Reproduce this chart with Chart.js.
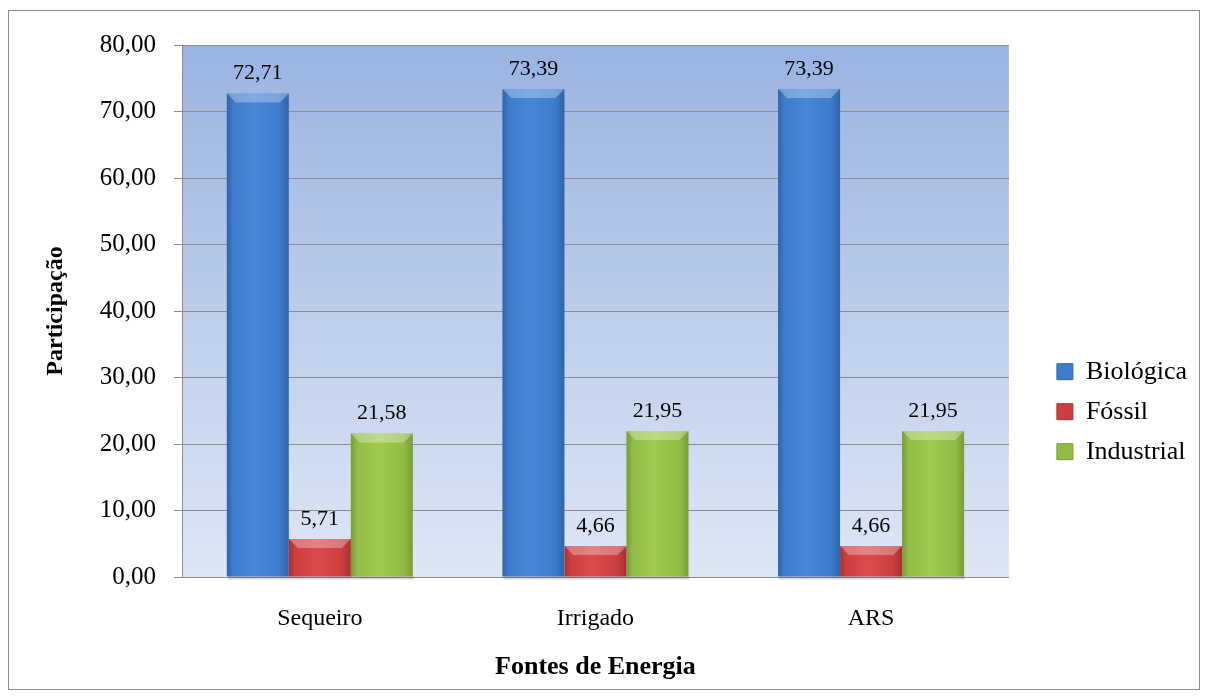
<!DOCTYPE html>
<html lang="pt">
<head>
    <meta charset="UTF-8">
    <title>Fontes de Energia</title>
    <script src="https://cdn.jsdelivr.net/npm/chart.js"></script>
    <style>
        html, body { margin: 0; padding: 0; background: #ffffff; }
        #wrap { width: 1208px; height: 696px; }
    </style>
</head>
<body>
<div id="wrap"><canvas id="chart" width="1208" height="696"></canvas></div>
<script>
    // valores
    const categorias = ['Sequeiro', 'Irrigado', 'ARS'];
    const biologica = [72.71, 73.39, 73.39];
    const fossil = [5.71, 4.66, 4.66];
    const industrial = [21.58, 21.95, 21.95];
    const series = ['Biológica', 'Fóssil', 'Industrial'];

    const cores = [
        { dark: '#2f64a8', mid: '#4887d6', flat: '#3d7bcb' },
        { dark: '#a83034', mid: '#dc4a4c', flat: '#cc3f41' },
        { dark: '#789c34', mid: '#a2ca50', flat: '#92bc45' }
    ];

    const fmt = v => v.toFixed(2).replace('.', ',');

    function barFill(idx) {
        return ctx => {
            const el = ctx.element;
            const c = cores[idx];
            if (!el || el.x === undefined || !el.width) return c.flat;
            const g = ctx.chart.ctx.createLinearGradient(el.x - el.width / 2, 0, el.x + el.width / 2, 0);
            g.addColorStop(0, c.dark);
            g.addColorStop(0.1, c.flat);
            g.addColorStop(0.45, c.mid);
            g.addColorStop(0.85, c.flat);
            g.addColorStop(1, c.dark);
            return g;
        };
    }

    // fundo em degradê da área do gráfico e moldura externa
    const fundo = {
        id: 'fundo',
        beforeDraw(chart) {
            const { ctx, chartArea: a } = chart;
            ctx.save();
            ctx.strokeStyle = '#8c8c8c';
            ctx.lineWidth = 1;
            ctx.strokeRect(8.5, 10.5, 1191, 679);
            const g = ctx.createLinearGradient(0, a.top, 0, a.bottom);
            g.addColorStop(0, '#9ab3e1');
            g.addColorStop(1, '#dfe7f5');
            ctx.fillStyle = g;
            ctx.fillRect(a.left, a.top, a.right - a.left, a.bottom - a.top);
            ctx.restore();
        }
    };

    // brilho no topo das barras e rótulos de valor
    const acabamento = {
        id: 'acabamento',
        afterDatasetsDraw(chart) {
            const ctx = chart.ctx;
            ctx.save();
            chart.data.datasets.forEach((ds, di) => {
                chart.getDatasetMeta(di).data.forEach((bar, i) => {
                    const l = bar.x - bar.width / 2, r = bar.x + bar.width / 2;
                    const t = bar.y, b = bar.base;
                    const bev = Math.min(9, (b - t) / 3);
                    ctx.fillStyle = 'rgba(255,255,255,0.3)';
                    ctx.beginPath();
                    ctx.moveTo(l, t);
                    ctx.lineTo(r, t);
                    ctx.lineTo(r - bev, t + bev);
                    ctx.lineTo(l + bev, t + bev);
                    ctx.closePath();
                    ctx.fill();
                    ctx.fillStyle = 'rgba(0,0,0,0.15)';
                    ctx.fillRect(l + 1, b, r - l, 3);

                    ctx.fillStyle = '#000000';
                    ctx.font = '22px "Liberation Serif"';
                    ctx.textAlign = 'center';
                    ctx.textBaseline = 'middle';
                    ctx.fillText(fmt(ds.data[i]), bar.x, t - 20);
                });
            });
            ctx.restore();
        }
    };

    const chart = new Chart(document.getElementById('chart'), {
        type: 'bar',
        data: {
            labels: categorias,
            datasets: [
                { label: series[0], data: biologica, backgroundColor: barFill(0) },
                { label: series[1], data: fossil, backgroundColor: barFill(1) },
                { label: series[2], data: industrial, backgroundColor: barFill(2) }
            ]
        },
        options: {
            responsive: false,
            animation: false,
            devicePixelRatio: 1,
            layout: { padding: { left: 12, top: 45, right: 11, bottom: 10 } },
            datasets: {
                bar: { barPercentage: 1.0, categoryPercentage: 0.675, borderWidth: 0 }
            },
            scales: {
                x: {
                    grid: { display: false, drawTicks: false },
                    border: { color: '#8c8c8c' },
                    ticks: { color: '#000', font: { family: 'Liberation Serif', size: 24 }, padding: 27 },
                    title: {
                        display: true, text: 'Fontes de Energia', color: '#000',
                        font: { family: 'Liberation Serif', size: 26, weight: 'bold' },
                        padding: { top: 10, bottom: 3 }
                    },
                    afterFit: s => { s.height = 109; }
                },
                y: {
                    min: 0, max: 80,
                    grid: { color: '#8c8c8c', tickLength: 8 },
                    border: { color: '#8c8c8c' },
                    ticks: {
                        stepSize: 10, color: '#000', padding: 18,
                        font: { family: 'Liberation Serif', size: 25 },
                        callback: v => fmt(v)
                    },
                    title: {
                        display: true, text: 'Participação', color: '#000',
                        font: { family: 'Liberation Serif', size: 24, weight: 'bold' },
                        padding: { top: 29, bottom: 0 }
                    },
                    afterFit: s => { s.width = 170; }
                },
                // espaço vazio entre a área do gráfico e a legenda
                gap: {
                    type: 'linear', position: 'right', display: true,
                    grid: { display: false, drawTicks: false },
                    border: { display: false },
                    ticks: { display: false },
                    afterFit: s => { s.width = 34; }
                }
            },
            plugins: {
                tooltip: { enabled: false },
                legend: {
                    position: 'right',
                    title: { display: true, text: ' ', font: { size: 2 }, padding: { top: 90, bottom: 0 } },
                    labels: {
                        color: '#000',
                        font: { family: 'Liberation Serif', size: 26 },
                        boxWidth: 16, boxHeight: 16, padding: 14,
                        generateLabels: ch => ch.data.datasets.map((ds, i) => ({
                            text: ds.label, fillStyle: cores[i].flat,
                            strokeStyle: cores[i].dark, lineWidth: 1,
                            fontColor: '#000000',
                            datasetIndex: i, hidden: false
                        }))
                    }
                }
            }
        },
        plugins: [fundo, acabamento]
    });
    chart.update();
</script>
</body>
</html>
